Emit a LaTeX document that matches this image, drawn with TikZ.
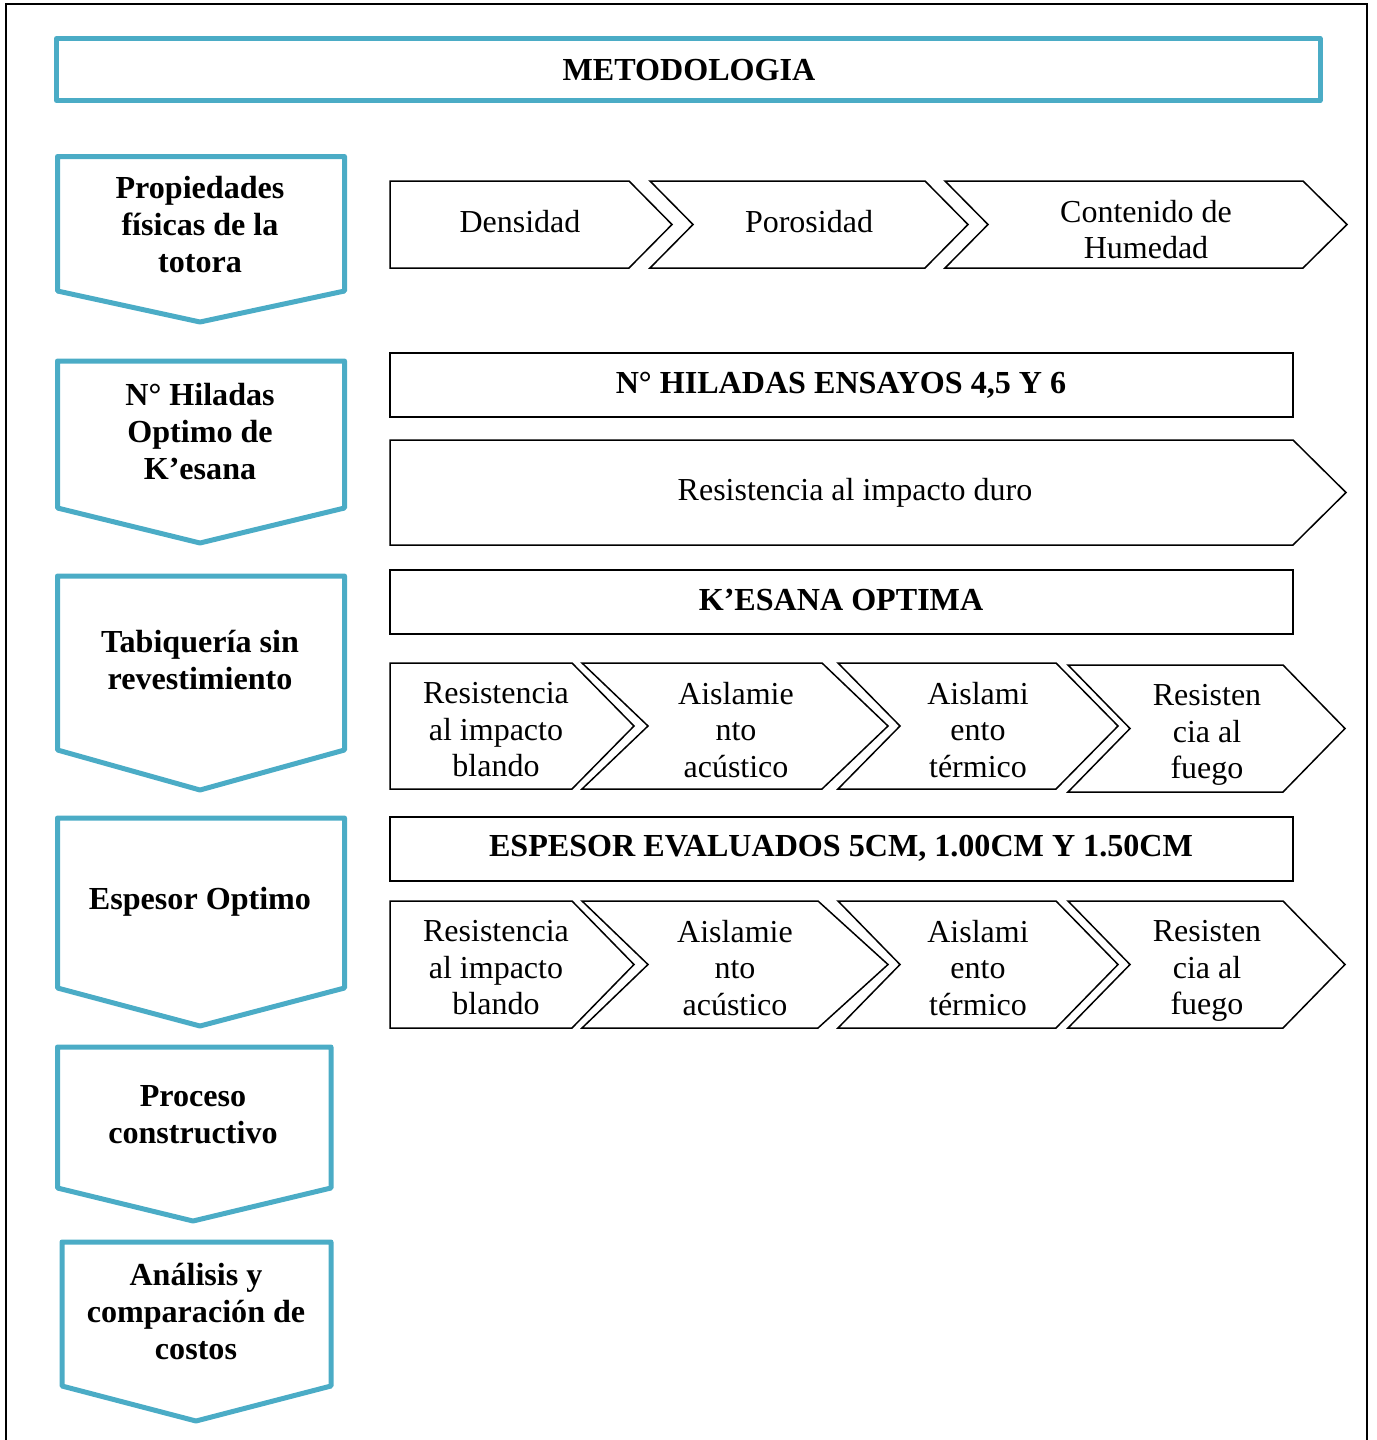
\documentclass[tikz,border=0pt]{standalone}
\usepackage{fontspec}
\setmainfont{Liberation Serif}
\definecolor{accent}{RGB}{75,172,198}
\begin{document}
\begin{tikzpicture}[x=1pt,y=-1pt,
  bluebox/.style={draw=accent,line width=5pt,line join=round},
  blackbox/.style={draw=black,line width=1.5pt,line join=miter},
  boldtxt/.style={font=\fontsize{32.1}{37}\selectfont\bfseries,align=center,inner sep=0pt},
  plaintxt/.style={font=\fontsize{32}{36.5}\selectfont,align=center,inner sep=0pt}]
\useasboundingbox (0,0) rectangle (1376,1440);
% page frame (open at the bottom)
\draw[line width=2pt] (6,1440) -- (6,4) -- (1367,4) -- (1367,1440);

% title bar
\draw[bluebox] (56.5,38.5) rectangle (1320,100.5);
\node[boldtxt] (title) at (689,70) {METODOLOGIA};

% left column: downward pentagon stages
\draw[bluebox] (57.5,156.5) -- (344.5,156.5) -- (344.5,291) -- (200,322) -- (57.5,291) -- cycle;
\node[boldtxt] (s1) at (200,225) {Propiedades\\físicas de la\\totora};

\draw[bluebox] (57.5,361) -- (344.5,361) -- (344.5,508) -- (200,543) -- (57.5,508) -- cycle;
\node[boldtxt] (s2) at (200,432) {N° Hiladas\\Optimo de\\K’esana};

\draw[bluebox] (57.5,576) -- (344.5,576) -- (344.5,750) -- (200,790) -- (57.5,750) -- cycle;
\node[boldtxt] (s3) at (200,660) {Tabiquería sin\\revestimiento};

\draw[bluebox] (57.5,818) -- (344.5,818) -- (344.5,988) -- (200,1026) -- (57.5,988) -- cycle;
\node[boldtxt] (s4) at (200,902) {Espesor Optimo};

\draw[bluebox] (57.5,1047) -- (331,1047) -- (331,1188) -- (193,1221) -- (57.5,1188) -- cycle;
\node[boldtxt] (s5) at (193,1115) {Proceso\\constructivo};

\draw[bluebox] (62,1242) -- (331,1242) -- (331,1386) -- (196,1421) -- (62,1386) -- cycle;
\node[boldtxt] (s6) at (196,1311) {Análisis y\\comparación de\\costos};

% row 1: physical properties
\draw[blackbox] (390,181) -- (629,181) -- (672,224.5) -- (629,268) -- (390,268) -- cycle;
\draw[blackbox] (650,181) -- (925,181) -- (968,224.5) -- (925,268) -- (650,268) -- (693,224.5) -- cycle;
\draw[blackbox] (945,181) -- (1303,181) -- (1347,224.5) -- (1303,268) -- (945,268) -- (988,224.5) -- cycle;
\node[plaintxt] (densidad) at (520,222) {Densidad};
\node[plaintxt] (porosidad) at (809,222) {Porosidad};
\node[plaintxt] (humedad) at (1146,229.5) {Contenido de\\Humedad};

% row 2: number of courses
\draw[blackbox] (390,353) rectangle (1293,417);
\node[boldtxt] (hiladas) at (841,385) {N° HILADAS ENSAYOS 4,5 Y 6};
\draw[blackbox] (390,440) -- (1293,440) -- (1346,492.5) -- (1293,545) -- (390,545) -- cycle;
\node[plaintxt] (duro) at (855,493) {Resistencia al impacto duro};

% row 3: optimal k'esana
\draw[blackbox] (390,570) rectangle (1293,634);
\node[boldtxt] (kesana) at (841,600) {K’ESANA OPTIMA};
\draw[blackbox] (390,663) -- (572,663) -- (634,726) -- (572,789) -- (390,789) -- cycle;
\draw[blackbox] (582,663) -- (822,663) -- (888,726) -- (822,789) -- (582,789) -- (648,726) -- cycle;
\draw[blackbox] (838,663) -- (1056,663) -- (1118,726) -- (1056,789) -- (838,789) -- (900,726) -- cycle;
\draw[blackbox] (1068,665) -- (1283,665) -- (1345,728.5) -- (1283,792) -- (1068,792) -- (1130,728.5) -- cycle;
\node[plaintxt] (k1) at (496,730) {Resistencia\\al impacto\\blando};
\node[plaintxt] (k2) at (736,730) {Aislamie\\nto\\acústico};
\node[plaintxt] (k3) at (978,730) {Aislami\\ento\\térmico};
\node[plaintxt] (k4) at (1207,735) {Resisten\\cia al\\fuego};

% row 4: thickness
\draw[blackbox] (390,817) rectangle (1293,881);
\node[boldtxt] (espesor) at (841,848) {ESPESOR EVALUADOS 5CM, 1.00CM Y 1.50CM};
\draw[blackbox] (390,901) -- (572,901) -- (634,964.5) -- (572,1028) -- (390,1028) -- cycle;
\draw[blackbox] (582,901) -- (818,901) -- (888,964.5) -- (818,1028) -- (582,1028) -- (648,964.5) -- cycle;
\draw[blackbox] (838,901) -- (1056,901) -- (1118,964.5) -- (1056,1028) -- (838,1028) -- (900,964.5) -- cycle;
\draw[blackbox] (1068,901) -- (1283,901) -- (1345,964.5) -- (1283,1028) -- (1068,1028) -- (1130,964.5) -- cycle;
\node[plaintxt] (e1) at (496,968) {Resistencia\\al impacto\\blando};
\node[plaintxt] (e2) at (735,968) {Aislamie\\nto\\acústico};
\node[plaintxt] (e3) at (978,968) {Aislami\\ento\\térmico};
\node[plaintxt] (e4) at (1207,971) {Resisten\\cia al\\fuego};
\end{tikzpicture}
\end{document}
